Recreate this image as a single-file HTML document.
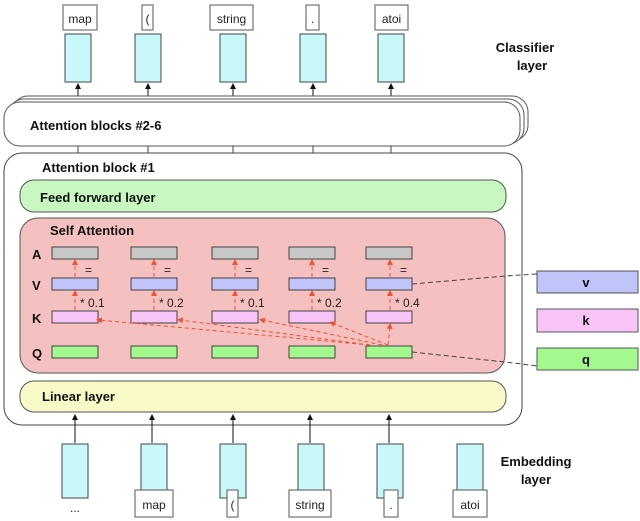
<!DOCTYPE html>
<html><head><meta charset="utf-8"><style>
html,body{margin:0;padding:0;background:#fff;}
svg{display:block;font-family:"Liberation Sans",Arial,sans-serif;}
.b{font-weight:bold;font-size:13px;fill:#111;}
.t{font-size:12px;fill:#222;}
</style></head><body>
<svg width="640" height="521" viewBox="0 0 640 521" xmlns="http://www.w3.org/2000/svg">
<defs>
<marker id="ab" markerWidth="6" markerHeight="6" refX="3" refY="3" orient="auto"><path d="M0,0 L6,3 L0,6 z" fill="#111"/></marker>
<marker id="ar" markerWidth="6" markerHeight="6" refX="3" refY="3" orient="auto"><path d="M0,0 L6,3 L0,6 z" fill="#f05030"/></marker>
</defs>
<g fill="#fff" stroke="#555" stroke-width="1">
<rect x="63" y="5" width="34" height="25"/><rect x="142" y="5" width="11" height="25"/>
<rect x="210" y="5" width="43" height="25"/><rect x="306" y="5" width="13" height="25"/><rect x="375" y="5" width="33" height="25"/>
</g>
<g class="t" text-anchor="middle" font-size="13">
<text x="80" y="23">map</text><text x="147.5" y="23">(</text><text x="231.5" y="23">string</text><text x="312.5" y="23">.</text><text x="391.5" y="23">atoi</text>
</g>
<g fill="#c8f8fa" stroke="#444" stroke-width="1">
<rect x="65" y="34" width="26" height="48"/><rect x="135" y="34" width="26" height="48"/><rect x="220" y="34" width="26" height="48"/><rect x="300" y="34" width="26" height="48"/><rect x="378" y="34" width="26" height="48"/>
</g>
<g stroke="#111" stroke-width="1" marker-end="url(#ab)">
<line x1="78" y1="97" x2="78" y2="86"/><line x1="148" y1="97" x2="148" y2="86"/><line x1="233" y1="97" x2="233" y2="86"/><line x1="313" y1="97" x2="313" y2="86"/><line x1="391" y1="97" x2="391" y2="86"/>
</g>
<text class="b" x="525" y="52" text-anchor="middle">Classifier</text>
<text class="b" x="532" y="70" text-anchor="middle">layer</text>
<g fill="#fff" stroke="#555" stroke-width="1">
<rect x="12" y="96" width="516" height="45" rx="16"/>
<rect x="8" y="99" width="516" height="45" rx="16"/>
<rect x="4" y="102" width="516" height="44" rx="16"/>
</g>
<text class="b" x="30" y="130">Attention blocks  #2-6</text>
<g stroke="#444"><line x1="78" y1="146" x2="78" y2="153"/><line x1="148" y1="146" x2="148" y2="153"/><line x1="233" y1="146" x2="233" y2="153"/><line x1="313" y1="146" x2="313" y2="153"/><line x1="391" y1="146" x2="391" y2="153"/></g>
<rect x="4" y="153" width="518" height="272" rx="18" fill="#fff" stroke="#444"/>
<text class="b" x="42" y="172">Attention block #1</text>
<rect x="20" y="180" width="486" height="32" rx="14" fill="#c8f8c0" stroke="#555"/>
<text class="b" x="40" y="202">Feed forward layer</text>
<rect x="20" y="218" width="485" height="155" rx="18" fill="#f4c0c0" stroke="#555"/>
<text class="b" x="50" y="235">Self Attention</text>
<g class="b"><text x="32" y="259">A</text><text x="32" y="290">V</text><text x="32" y="323">K</text><text x="32" y="358">Q</text></g>
<g stroke="#444" stroke-width="1">
<g fill="#c8c8c8"><rect x="52" y="247" width="46" height="12"/><rect x="131" y="247" width="46" height="12"/><rect x="212" y="247" width="46" height="12"/><rect x="289" y="247" width="46" height="12"/><rect x="366" y="247" width="46" height="12"/></g>
<g fill="#c0c4f8"><rect x="52" y="278" width="46" height="12"/><rect x="131" y="278" width="46" height="12"/><rect x="212" y="278" width="46" height="12"/><rect x="289" y="278" width="46" height="12"/><rect x="366" y="278" width="46" height="12"/></g>
<g fill="#f8c4f8"><rect x="52" y="311" width="46" height="12"/><rect x="131" y="311" width="46" height="12"/><rect x="212" y="311" width="46" height="12"/><rect x="289" y="311" width="46" height="12"/><rect x="366" y="311" width="46" height="12"/></g>
<g fill="#a4f890"><rect x="52" y="346" width="46" height="12"/><rect x="131" y="346" width="46" height="12"/><rect x="212" y="346" width="46" height="12"/><rect x="289" y="346" width="46" height="12"/><rect x="366" y="346" width="46" height="12"/></g>
</g>
<g stroke="#f05030" stroke-width="1" stroke-dasharray="4,3" marker-end="url(#ar)" fill="none">
<line x1="75" y1="277" x2="75" y2="262"/><line x1="154" y1="277" x2="154" y2="262"/><line x1="235" y1="277" x2="235" y2="262"/><line x1="312" y1="277" x2="312" y2="262"/><line x1="390" y1="277" x2="390" y2="262"/>
<line x1="75" y1="310" x2="75" y2="293"/><line x1="154" y1="310" x2="154" y2="293"/><line x1="235" y1="310" x2="235" y2="293"/><line x1="312" y1="310" x2="312" y2="293"/><line x1="390" y1="310" x2="390" y2="293"/>
<line x1="388" y1="345" x2="390" y2="326"/>
<line x1="370" y1="345" x2="99" y2="320"/><line x1="370" y1="345" x2="180" y2="320"/><line x1="382" y1="345" x2="262" y2="320"/><line x1="388" y1="345" x2="332" y2="323"/>
</g>
<g class="t" font-size="13">
<text x="85" y="274">=</text><text x="164" y="274">=</text><text x="245" y="274">=</text><text x="322" y="274">=</text><text x="400" y="274">=</text>
<text x="80" y="307">* 0.1</text><text x="159" y="307">* 0.2</text><text x="240" y="307">* 0.1</text><text x="317" y="307">* 0.2</text><text x="395" y="307">* 0.4</text>
</g>
<g stroke="#555" stroke-width="1">
<rect x="537" y="271" width="101" height="22" fill="#c0c4f8"/>
<rect x="537" y="309" width="101" height="23" fill="#f8c4f8"/>
<rect x="537" y="348" width="101" height="22" fill="#a4f890"/>
</g>
<g class="b" text-anchor="middle"><text x="586" y="287">v</text><text x="586" y="325">k</text><text x="586" y="364">q</text></g>
<g stroke="#444" stroke-dasharray="5,3" fill="none">
<polyline points="412,284 505,276 537,274"/>
<polyline points="412,352 505,362 537,366"/>
</g>
<rect x="20" y="381" width="486" height="31" rx="14" fill="#fafac8" stroke="#555"/>
<text class="b" x="42" y="401">Linear layer</text>
<g fill="#c8f8fa" stroke="#444" stroke-width="1">
<rect x="62" y="444" width="26" height="54"/><rect x="141" y="444" width="26" height="54"/><rect x="220" y="444" width="26" height="54"/><rect x="298" y="444" width="26" height="54"/><rect x="377" y="444" width="26" height="54"/><rect x="457" y="444" width="26" height="54"/>
</g>
<g stroke="#111" stroke-width="1" marker-end="url(#ab)">
<line x1="75" y1="443" x2="75" y2="417"/><line x1="152" y1="443" x2="152" y2="417"/><line x1="233" y1="443" x2="233" y2="417"/><line x1="310" y1="443" x2="310" y2="417"/><line x1="389" y1="443" x2="389" y2="417"/>
</g>
<g fill="#fff" stroke="#555" stroke-width="1">
<rect x="135" y="490" width="38" height="27"/><rect x="227" y="490" width="11" height="27"/><rect x="289" y="490" width="42" height="27"/><rect x="384" y="490" width="14" height="27"/><rect x="453" y="490" width="34" height="27"/>
</g>
<g class="t" text-anchor="middle" font-size="13">
<text x="75" y="512">...</text><text x="154" y="509">map</text><text x="232.5" y="509">(</text><text x="310" y="509">string</text><text x="391" y="509">.</text><text x="470" y="509">atoi</text>
</g>
<text class="b" x="536" y="466" text-anchor="middle">Embedding</text>
<text class="b" x="536" y="484" text-anchor="middle">layer</text>
</svg>
</body></html>
